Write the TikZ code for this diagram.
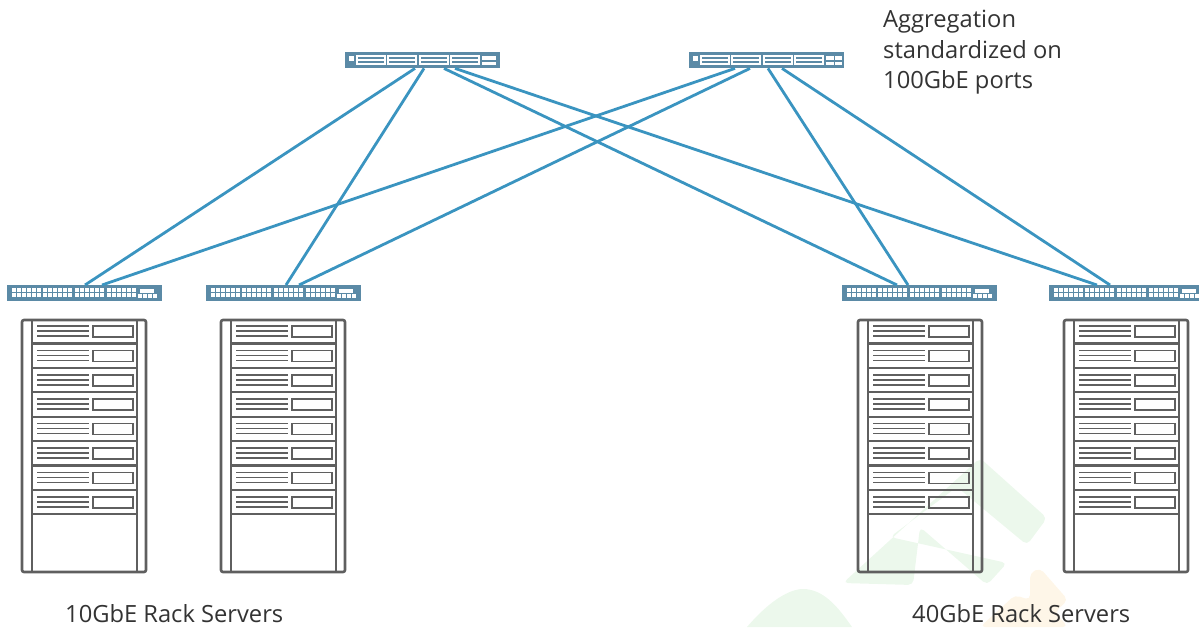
\documentclass[tikz,border=0pt]{standalone}
\usepackage{fontspec}
\setmainfont{Open Sans}
\usetikzlibrary{calc}
\definecolor{swblue}{HTML}{5B8AA6}
\definecolor{link}{HTML}{3A94C0}
\definecolor{rackgray}{HTML}{5F5F5F}
\definecolor{wmgreen}{HTML}{ECF8EC}
\definecolor{wmorange}{HTML}{FEF6E8}
\tikzset{
  x=1pt,y=-1pt,
  switchbody/.style={fill=swblue,draw=none,inner sep=0,minimum height=16pt,minimum width=155pt,anchor=north west},
  uplink/.style={draw=link,line width=2.8pt},
  rackline/.style={draw=rackgray,line width=1.6pt},
  rackframe/.style={draw=rackgray,line width=2.6pt,rounded corners=2pt},
  caption/.style={font=\fontsize{23.7}{30.5}\selectfont,text=black!80,inner sep=0,anchor=west,align=left},
  wm/.style={line join=round,rounded corners=5pt,draw=none}
}
\newcommand{\rackat}[1]{%
  \begin{scope}[shift={(#1,320)}]
    \foreach \r in {0,...,7}{
      \begin{scope}[shift={(0,24.4*\r)}]
        \foreach \l in {6,11,16}{\draw[rackline] (15,\l) -- (67,\l);}
        \draw[rackline] (71,6) rectangle (111,17);
      \end{scope}
      \draw[rackline,line width=2.2pt] (10,24.4*\r+23.4) -- (115,24.4*\r+23.4);
    }
    \draw[rackline] (10,0) -- (10,252);
    \draw[rackline] (115,0) -- (115,252);
    \draw[rackframe] (0,0) rectangle (124,252);
  \end{scope}}
\newcommand{\accessports}[1]{%
  \begin{scope}[shift={(#1,285)}]
    \foreach \g in {5,36,68,100}{
      \foreach \c in {0,...,5}{
        \fill[white] (\g+\c*4.9,3.3) rectangle +(4.1,4.1);
        \fill[white] (\g+\c*4.9,8.3) rectangle +(4.1,4.1);
      }}
    \fill[white] (133,3.5) rectangle (147,7.5);
    \foreach \c in {0,...,3}{\fill[white] (131+\c*5,9) rectangle +(4,4);}
  \end{scope}}
\newcommand{\coreports}[1]{%
  \begin{scope}[shift={(#1,52)}]
    \fill[white] (4,3.5) rectangle (9,8.5);
    \foreach \g in {11,42,74,105}{
      \fill[white] (\g,3) rectangle +(29.5,10);
      \fill[swblue] (\g+1.5,5) rectangle +(26.5,1.7);
      \fill[swblue] (\g+1.5,9.3) rectangle +(26.5,1.7);
    }
  \end{scope}}
\begin{document}
\begin{tikzpicture}
\useasboundingbox (0,0) rectangle (1199,627);
% faint background mark
\fill[wmgreen,wm] (843,583) -- (980,458) -- (1047,518) -- (1027,545) -- (957,487) -- (890,537) -- (1007,563) -- (987,585) -- (920,527) -- (913,585) -- cycle;
\fill[wmgreen] (747,627) .. controls (770,600) and (790,589) .. (803,589) .. controls (825,589) and (840,610) .. (852,627) -- cycle;
\fill[wmorange,wm] (1030,573) -- (1040,568) -- (1068,600) -- (1055,612) -- (1068,627) -- (980,627) -- (1015,595) -- (1030,600) -- cycle;
% switches
\node[switchbody] (core1) at (345,52) {};
\node[switchbody] (core2) at (689,52) {};
\node[switchbody] (acc1) at (7,285) {};
\node[switchbody] (acc2) at (206,285) {};
\node[switchbody] (acc3) at (842,285) {};
\node[switchbody] (acc4) at (1049,285) {};
\coreports{345}
\coreports{689}
\fill[white] (482,56) rectangle (496,60);
\fill[white] (482,61.5) rectangle (496,65);
\fill[white] (826,56) rectangle (833.5,60);
\fill[white] (834.5,56) rectangle (842,60);
\fill[white] (826,61.5) rectangle (833.5,65);
\fill[white] (834.5,61.5) rectangle (842,65);
\accessports{7}
\accessports{206}
\accessports{842}
\accessports{1049}
% connectors
\draw[uplink] ($(core1.south west)+(70,0)$) -- ($(acc1.north west)+(78,0)$);
\draw[uplink] ($(core1.south west)+(79,0)$) -- ($(acc2.north west)+(80,0)$);
\draw[uplink] ($(core1.south west)+(99,0)$) -- ($(acc3.north west)+(55,0)$);
\draw[uplink] ($(core1.south west)+(110,0)$) -- ($(acc4.north west)+(48,0)$);
\draw[uplink] ($(core2.south west)+(46,0)$) -- ($(acc1.north west)+(95,0)$);
\draw[uplink] ($(core2.south west)+(61,0)$) -- ($(acc2.north west)+(93,0)$);
\draw[uplink] ($(core2.south west)+(79,0)$) -- ($(acc3.north west)+(66,0)$);
\draw[uplink] ($(core2.south west)+(93,0)$) -- ($(acc4.north west)+(61,0)$);
% racks
\rackat{22}
\rackat{221}
\rackat{858}
\rackat{1064}
% labels
\node[caption] (aggr) at (883,52.5) {Aggregation\\standardized on\\100GbE ports};
\node[caption] (ten) at (65,614) {10GbE Rack Servers};
\node[caption] (forty) at (912,614) {40GbE Rack Servers};
\end{tikzpicture}
\end{document}
